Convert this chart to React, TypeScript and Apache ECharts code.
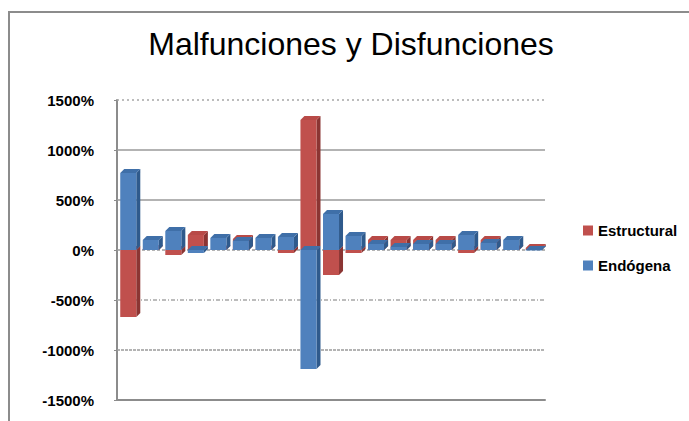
import React, { useEffect, useRef } from "react";
import * as echarts from "echarts";

const categories = ["1","2","3","4","5","6","7","8","9","10","11","12","13","14","15","16","17","18","19"];
const estructural = [-670, 10, -50, 150, 5, 110, 5, -30, 1300, -250, -30, 100, 100, 100, 100, -30, 100, 5, 20];
const endogena = [770, 100, 190, -30, 120, 90, 120, 130, -1190, 360, 140, 60, 30, 60, 60, 150, 70, 100, 0];
const yTicks = [-1500, -1000, -500, 0, 500, 1000, 1500];

const FONT = '"Liberation Sans", Arial, sans-serif';

function make3D(front: string, side: string, top: string) {
  return (params: any, api: any) => {
    const idx = api.value(0);
    const val = api.value(1);
    const p0 = api.coord([idx, 0]);
    const p1 = api.coord([idx, val]);
    const bw = api.size([1, 0])[0] * 0.89;
    const d = 4;
    const fw = bw - d;
    const x0 = p0[0] - bw / 2 + 2;
    const yt = Math.min(p0[1], p1[1]);
    const yb = Math.max(p0[1], p1[1]);
    const h = Math.max(yb - yt, 0.5);
    return {
      type: "group",
      children: [
        {
          type: "polygon",
          shape: { points: [[x0 + fw, yt], [x0 + fw + d, yt - d], [x0 + fw + d, yt + h - d], [x0 + fw, yt + h]] },
          style: { fill: side },
        },
        {
          type: "polygon",
          shape: { points: [[x0, yt], [x0 + d, yt - d], [x0 + fw + d, yt - d], [x0 + fw, yt]] },
          style: { fill: top },
        },
        {
          type: "rect",
          shape: { x: x0, y: yt, width: fw, height: h },
          style: { fill: front },
        },
      ],
    };
  };
}

const gridStyles: Record<number, any> = {
  1500: { type: [2, 3], color: "#a6a6a6", width: 1.5 },
  1000: { type: "solid", color: "#9a9a9a", width: 1.5 },
  500: { type: "solid", color: "#9a9a9a", width: 1.5 },
  0: { type: [3, 2], color: "#9a9a9a", width: 1.5 },
  "-500": { type: [4, 2, 1, 2], color: "#a6a6a6", width: 1.5 },
  "-1000": { type: [3, 1], color: "#9a9a9a", width: 1.5 },
};

export default function App() {
  const ref = useRef<HTMLDivElement>(null);
  useEffect(() => {
    if (!ref.current) return;
    const chart = echarts.init(ref.current, undefined, { renderer: "svg" });
    const markData = yTicks
      .filter((v) => v !== -1500)
      .map((v) => ({ yAxis: v, lineStyle: gridStyles[v] }));
    chart.setOption({
      animation: false,
      backgroundColor: "#ffffff",
      title: {
        text: "Malfunciones y Disfunciones",
        left: 346,
        top: 23,
        textAlign: "center",
        textStyle: { fontFamily: FONT, fontSize: 32, fontWeight: "normal", color: "#000" },
      },
      legend: {
        orient: "vertical",
        left: 578,
        top: 218,
        itemWidth: 10,
        itemHeight: 10,
        itemGap: 20,
        icon: "rect",
        textStyle: { fontFamily: FONT, fontSize: 15, fontWeight: "bold", color: "#000" },
        data: ["Estructural", "Endógena"],
      },
      grid: { left: 117, right: 144, top: 100, bottom: 21 },
      xAxis: {
        type: "category",
        data: categories,
        axisLine: { onZero: false, lineStyle: { color: "#8c8c8c", width: 2 } },
        axisTick: { show: false },
        axisLabel: { show: false },
        splitLine: { show: false },
      },
      yAxis: {
        type: "value",
        min: -1500,
        max: 1500,
        interval: 500,
        axisLine: { show: true, lineStyle: { color: "#8c8c8c", width: 2 } },
        axisTick: { show: true, length: 3, lineStyle: { color: "#8c8c8c" } },
        splitLine: { show: false },
        axisLabel: {
          margin: 23,
          formatter: (v: number) => `${v}%`,
          fontFamily: FONT,
          fontSize: 15,
          fontWeight: "bold",
          color: "#000",
        },
      },
      graphic: [
        {
          type: "rect",
          shape: { x: 9, y: 12, width: 700, height: 420 },
          style: { fill: "none", stroke: "#8c8c8c", lineWidth: 2 },
          silent: true,
        },
      ],
      series: [
        {
          name: "Estructural",
          type: "custom",
          itemStyle: { color: "#C0504D" },
          encode: { x: 0, y: 1 },
          data: estructural.map((v, i) => [i, v]),
          renderItem: make3D("#C0504D", "#8B3533", "#B84A47"),
          z: 2,
          markLine: { silent: true, symbol: "none", label: { show: false }, data: markData, z: 1 },
        },
        {
          name: "Endógena",
          type: "custom",
          itemStyle: { color: "#4F81BD" },
          encode: { x: 0, y: 1 },
          data: endogena.map((v, i) => [i, v]),
          renderItem: make3D("#4F81BD", "#2F5A8C", "#3F6FA8"),
          z: 3,
        },
      ],
    });
    return () => chart.dispose();
  }, []);
  return (
    <div
      ref={ref}
      style={{ position: "fixed", left: 0, top: 0, width: 689, height: 421 }}
    />
  );
}
